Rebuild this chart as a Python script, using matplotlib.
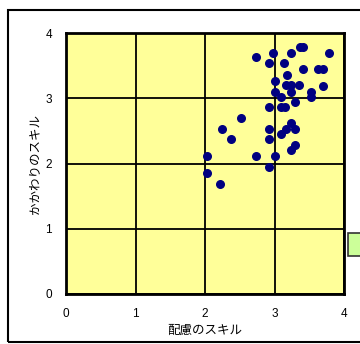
import matplotlib
matplotlib.use("Agg")
import matplotlib.pyplot as plt
from matplotlib.patches import Rectangle

# 配慮のスキル (x) vs かかわりのスキル (y)
care_skill = [2.74, 2.98, 3.24, 3.37, 3.41, 3.79, 2.92, 3.14, 3.41, 3.63, 3.70,
              3.18, 3.01, 3.17, 3.24, 3.35, 3.70, 3.01, 3.24, 3.53, 3.09, 3.53,
              3.30, 2.92, 3.10, 3.15, 2.52, 2.24, 2.92, 3.17, 3.24, 3.30, 3.09,
              2.38, 2.92, 3.30, 3.24, 2.03, 2.74, 3.01, 2.92, 2.03, 2.21]
relation_skill = [3.63, 3.70, 3.70, 3.78, 3.78, 3.70, 3.54, 3.54, 3.45, 3.45, 3.45,
                  3.36, 3.27, 3.20, 3.20, 3.20, 3.19, 3.10, 3.10, 3.10, 3.02, 3.02,
                  2.95, 2.86, 2.86, 2.86, 2.70, 2.53, 2.53, 2.53, 2.62, 2.53, 2.45,
                  2.37, 2.37, 2.28, 2.21, 2.11, 2.11, 2.11, 1.94, 1.86, 1.69]
ticks = [0, 1, 2, 3, 4]

W, H = 360, 344
fig = plt.figure(figsize=(W / 100, H / 100), dpi=100)

# outer chart frame
fig.patches.append(Rectangle((8 / W, 2 / H), 1.0, 1 - 12 / H, transform=fig.transFigure,
                             fill=False, edgecolor="black", linewidth=1.5))

ax = fig.add_axes([66 / W, 50 / H, 278 / W, 261 / H])
ax.set_facecolor("#FFFF99")
ax.scatter(care_skill, relation_skill, s=30, color="#000080", marker="o", zorder=3)

ax.set_xlim(0, 4)
ax.set_ylim(0, 4)
ax.set_xticks(ticks)
ax.set_yticks(ticks)
ax.set_xticklabels([str(t) for t in ticks], family="Liberation Sans", fontsize=8.5)
ax.set_yticklabels([str(t) for t in ticks], family="Liberation Sans", fontsize=8.5)
ax.tick_params(length=0, pad=10)
ax.grid(True, color="black", linewidth=1.3)
ax.set_axisbelow(True)
for s in ax.spines.values():
    s.set_linewidth(2)
    s.set_color("black")

ax.set_xlabel("配慮のスキル", family=["Noto Sans CJK JP", "DejaVu Sans"], fontsize=9, labelpad=3)
ax.set_ylabel("かかわりのスキル", family=["Noto Sans CJK JP", "DejaVu Sans"], fontsize=9, labelpad=3)

# legend box partly cut off at the right edge
fig.patches.append(Rectangle((348 / W, (H - 256) / H), 30 / W, 23 / H, transform=fig.transFigure,
                             facecolor="#CCFF99", edgecolor="#333333", linewidth=1.2))

fig.savefig("out.png", dpi=100)
